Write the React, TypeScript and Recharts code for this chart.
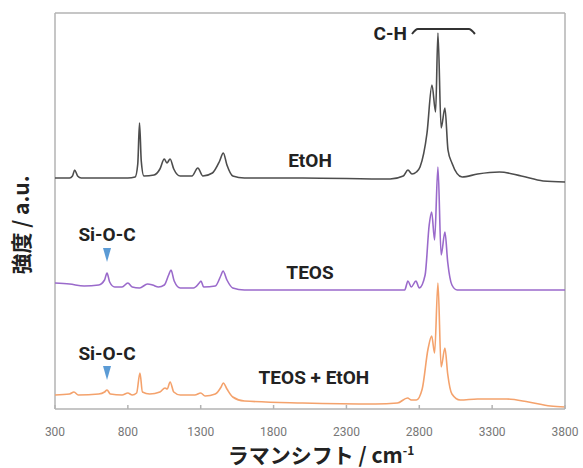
import React from "react";
import {
  LineChart,
  Line,
  XAxis,
  YAxis,
  ReferenceLine,
  ReferenceDot,
} from "recharts";

// wavenumber (cm-1), intensity (a.u., stacked with offsets already applied)
const etoh: [number, number][] = [
  [300, 231], [400, 231], [420, 233], [435, 239], [455, 233], [480, 231],
  [800, 231], [850, 232], [868, 245], [880, 286], [892, 248], [910, 233],
  [980, 234], [1020, 240], [1050, 250], [1068, 246], [1090, 250], [1115, 240],
  [1160, 233], [1240, 233], [1280, 241], [1315, 233], [1380, 236], [1430, 248],
  [1455, 256], [1480, 244], [1520, 233], [1600, 231], [2000, 231], [2600, 230],
  [2690, 233], [2722, 239], [2750, 235], [2780, 237], [2805, 242], [2853, 276],
  [2887, 324], [2912, 297], [2928, 376], [2950, 281], [2976, 301], [2997, 259],
  [3024, 246], [3094, 232], [3200, 235], [3350, 237], [3500, 233], [3650, 228],
  [3800, 227],
];

const teos: [number, number][] = [
  [300, 126], [400, 125], [500, 123], [600, 124], [640, 129], [657, 136],
  [675, 127], [710, 122], [760, 122], [800, 126], [830, 122], [880, 121],
  [935, 125], [970, 124], [1010, 122], [1050, 124], [1080, 134], [1096, 139],
  [1118, 128], [1160, 121], [1250, 121], [1290, 126], [1302, 128], [1320, 122],
  [1400, 123], [1440, 134], [1453, 138], [1480, 129], [1520, 121], [1600, 119],
  [2000, 119], [2600, 119], [2700, 119], [2722, 128], [2745, 122], [2777, 128],
  [2800, 121], [2840, 134], [2868, 184], [2885, 197], [2905, 169], [2928, 242],
  [2950, 154], [2976, 177], [2995, 147], [3024, 124], [3060, 119], [3800, 119],
];

const mix: [number, number][] = [
  [300, 14], [400, 15], [430, 17], [460, 14], [600, 15], [640, 17], [657, 19],
  [680, 15], [760, 14], [800, 16], [830, 14], [860, 16], [883, 36], [900, 17],
  [950, 15], [1020, 17], [1055, 21], [1070, 20], [1090, 27], [1115, 17],
  [1160, 14], [1260, 14], [1300, 16], [1330, 13], [1400, 15], [1440, 22],
  [1455, 26], [1480, 20], [1520, 12], [1600, 8], [2000, 6], [2500, 5],
  [2650, 6], [2720, 11], [2745, 9], [2780, 9], [2820, 20], [2860, 60],
  [2885, 73], [2905, 56], [2928, 126], [2950, 42], [2976, 61], [2995, 35],
  [3024, 15], [3080, 9], [3200, 10], [3300, 10], [3400, 10], [3550, 7],
  [3700, 3], [3800, 2],
];

// C-H bracket over the stretching band
const bracket: [number, number][] = [
  [2750, 375], [2790, 380], [3140, 380], [3182, 375],
];

const xTicks = [300, 800, 1300, 1800, 2300, 2800, 3300, 3800];

const labels = [
  { text: "C-H", x: 2600, y: 376 },
  { text: "EtOH", x: 2050, y: 249 },
  { text: "Si-O-C", x: 657, y: 175 },
  { text: "TEOS", x: 2050, y: 137 },
  { text: "Si-O-C", x: 657, y: 56 },
  { text: "TEOS + EtOH", x: 2077, y: 32 },
];
const markers = [
  { x: 657, y: 154 },
  { x: 657, y: 36 },
];

const toPts = (a: [number, number][]) => a.map(([x, y]) => ({ x, y }));

const frame = "#b3b3b3";

const Tick = (props: any) => {
  const { x, y, payload } = props;
  return (
    <g>
      <line x1={x} x2={x} y1={y} y2={y - 4} stroke={frame} strokeWidth={1.5} />
      <text x={x} y={y + 27} textAnchor="middle" fontSize={12} fill="#777"
        fontFamily="Roboto, sans-serif">
        {payload.value}
      </text>
    </g>
  );
};

const Triangle = (props: any) => {
  const { cx, cy } = props;
  return (
    <polygon
      points={`${cx - 4},${cy - 7} ${cx + 4},${cy - 7} ${cx},${cy + 7}`}
      fill="#5b9bd5"
    />
  );
};

export default function App() {
  return (
    <div style={{ position: "absolute", left: 0, top: 0, width: 583, height: 468 }}>
      <LineChart width={583} height={468}
        margin={{ top: 13, right: 18, left: 55, bottom: 29 }}>
        <XAxis dataKey="x" type="number" domain={[300, 3800]} ticks={xTicks}
          allowDataOverflow height={30} tickLine={false} tickSize={0} tickMargin={0}
          tick={<Tick />} axisLine={{ stroke: frame, strokeWidth: 1.5 }} />
        <YAxis dataKey="y" type="number" domain={[0, 396]} hide />
        <ReferenceLine x={300} stroke={frame} strokeWidth={1.5} />
        <ReferenceLine x={3800} stroke={frame} strokeWidth={1.5} />
        <ReferenceLine y={396} stroke={frame} strokeWidth={1.5} />
        <Line data={toPts(etoh)} dataKey="y" type="monotone" stroke="#4d4d4d"
          strokeWidth={1.6} dot={false} isAnimationActive={false} />
        <Line data={toPts(teos)} dataKey="y" type="monotone" stroke="#9a6acb"
          strokeWidth={1.6} dot={false} isAnimationActive={false} />
        <Line data={toPts(mix)} dataKey="y" type="monotone" stroke="#f4a26c"
          strokeWidth={1.6} dot={false} isAnimationActive={false} />
        <Line data={toPts(bracket)} dataKey="y" type="monotone" stroke="#333"
          strokeWidth={2} dot={false} isAnimationActive={false} />
        {markers.map((m, i) => (
          <ReferenceDot key={"m" + i} x={m.x} y={m.y} r={0} shape={<Triangle />} />
        ))}
        {labels.map((l, i) => (
          <ReferenceDot key={"l" + i} x={l.x} y={l.y} r={0} fill="none" stroke="none"
            label={{
              value: l.text, position: "center", fontSize: 19, fontWeight: 700,
              fill: "#222", fontFamily: "Roboto, sans-serif",
            }} />
        ))}
      </LineChart>
      <div style={{
        position: "absolute", left: 20, top: 225, transform: "translate(-50%, -50%) rotate(-90deg)",
        whiteSpace: "nowrap", fontFamily: "'Noto Sans CJK JP', sans-serif", fontWeight: 700,
        fontSize: 21, color: "#222", lineHeight: 1,
      }}>
        強度 / a.u.
      </div>
      <div style={{
        position: "absolute", left: 321, top: 454, transform: "translate(-50%, -50%)",
        whiteSpace: "nowrap", fontFamily: "'Noto Sans CJK JP', sans-serif", fontWeight: 700,
        fontSize: 21, color: "#222", lineHeight: 1,
      }}>
        ラマンシフト / cm<sup style={{ fontSize: 12, lineHeight: 0 }}>-1</sup>
      </div>
    </div>
  );
}
